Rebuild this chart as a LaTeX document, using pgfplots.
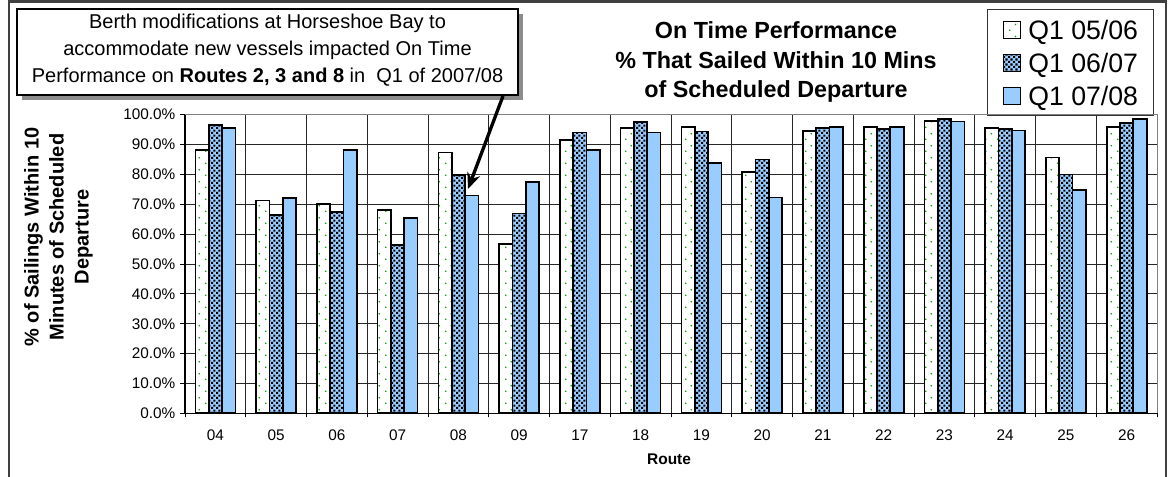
\documentclass[border=0pt]{standalone}
\usepackage{fontspec}
\setmainfont{Liberation Sans}
\usepackage{pgfplots}
\pgfplotsset{compat=1.18}
\usetikzlibrary{patterns,patterns.meta,arrows.meta}
\definecolor{barblue}{HTML}{99CCFF}
\definecolor{dotgreen}{HTML}{00A000}

\tikzdeclarepattern{
  name=sparsedots,
  type=uncolored,
  bottom left={(0pt,0pt)},
  top right={(9pt,9pt)},
  tile size={(9pt,9pt)},
  code={
    \fill (1.4pt,1.4pt) circle (0.7pt);
    \fill (5.9pt,5.9pt) circle (0.7pt);
  }
}
\tikzdeclarepattern{
  name=checkdots,
  type=uncolored,
  bottom left={(0pt,0pt)},
  top right={(3.6pt,3.6pt)},
  tile size={(3.6pt,3.6pt)},
  code={
    \fill (0pt,0pt) rectangle (1.6pt,1.6pt);
    \fill (1.8pt,1.8pt) rectangle (3.4pt,3.4pt);
  }
}

\pgfplotsset{boxlegend/.style={legend image code/.code={\draw[##1, line width=0.6pt] (0pt,-6.6pt) rectangle (13pt,6.0pt);}}}

\pgfplotstableread{
x  a     b     c
0  88.1  96.5  95.5
1  71.3  66.3  72.1
2  70.1  67.4  88.1
3  68.1  56.3  65.4
4  87.3  79.7  72.9
5  56.6  66.9  77.4
6  91.6  94.0  88.1
7  95.5  97.6  94.0
8  95.9  94.4  83.8
9  80.7  85.0  72.3
10 94.6  95.5  95.9
11 95.8  95.3  95.9
12 97.8  98.6  97.7
13 95.6  95.1  94.7
14 85.7  80.0  74.9
15 95.8  97.2  98.5
}\datatable

\begin{document}
\begin{tikzpicture}
\begin{scope}[x=0.75pt,y=-0.75pt]
\path[use as bounding box] (0,0) rectangle (1174,476);
\draw[black!75,line width=2pt] (9,480) -- (9,1.5) -- (1166,1.5) -- (1166,480);

% callout
\fill[black!45] (21.5,13.5) rectangle (523,100);
\draw[fill=white, draw=black, line width=0.9pt] (17,9) rectangle (518,95);
\node[align=center, font=\fontsize{15}{20}\selectfont, inner sep=0pt] at (267.5,50)
  {Berth modifications at Horseshoe Bay to\\accommodate new vessels impacted On Time\\Performance on \textbf{Routes 2, 3 and 8} in\ \ Q1 of 2007/08};

% title
\node[align=center, font=\fontsize{17.5}{22.3}\selectfont\bfseries, inner sep=0pt] at (776,62)
  {On Time Performance\\\% That Sailed Within 10 Mins\\of Scheduled Departure};
\end{scope}

\begin{axis}[
  at={(138.75pt,-309.975pt)}, anchor=south west,
  scale only axis, width=729pt, height=223.95pt,
  xmin=-0.5, xmax=15.5, ymin=0, ymax=100,
  ybar=0pt, bar width=10pt,
  axis x line*=bottom, axis y line*=left,
  axis line style={black, line width=0.8pt},
  xtick={0,...,15},
  xticklabels={04,05,06,07,08,09,17,18,19,20,21,22,23,24,25,26},
  minor xtick={-0.5,0.5,...,15.5},
  ytick={0,10,...,100},
  tick align=outside,
  major tick length=3.75pt, minor tick length=3pt,
  major x tick style={draw=none},
  minor x tick style={black, line width=0.6pt},
  ytick style={black, line width=0.6pt},
  ymajorgrids, xminorgrids,
  major grid style={black!85, line width=0.6pt},
  minor grid style={black!85, line width=0.6pt},
  /pgf/number format/assume math mode=true,
  yticklabel={\pgfmathprintnumber[fixed,fixed zerofill,precision=1]{\tick}\%},
  tick label style={font=\fontsize{11.5}{13}\selectfont},
  xticklabel style={yshift=-5pt},
  ylabel={\% of Sailings Within 10\\Minutes of Scheduled\\Departure},
  every axis y label/.style={at={(axis description cs:-0.1303,0.5904)}, rotate=90, anchor=center, align=center, font=\fontsize{15}{18.75}\selectfont\bfseries},
  xlabel={Route},
  every axis x label/.style={at={(axis description cs:0.498,-0.1731)}, anchor=base, font=\fontsize{11.6}{13}\selectfont\bfseries},
  extra description/.code={\draw[gray, line width=0.75pt] (0,1) -- (1,1) -- (1,0);},
  legend style={at={(axis description cs:0.8251,1.354)}, anchor=north west,
    draw=black!80, line width=0.75pt, fill=white,
    font=\fontsize{20}{24}\selectfont,
    inner xsep=11.5pt, inner ysep=5.5pt, row sep=5.75pt, column sep=5.5pt,
    nodes={inner sep=0pt, text height=17pt, text depth=2pt}},
  legend cell align=left,
]
\addplot[draw=black, line width=1.3pt, fill=white,
  postaction={pattern=sparsedots, pattern color=dotgreen}, boxlegend]
  table[x=x,y=a] {\datatable};
\addplot[draw=black, line width=1.3pt, fill=barblue,
  postaction={pattern=checkdots, pattern color=black}, boxlegend]
  table[x=x,y=b] {\datatable};
\addplot[draw=black, line width=1.3pt, fill=barblue, boxlegend]
  table[x=x,y=c] {\datatable};
\legend{Q1 05/06,Q1 06/07,Q1 07/08}
\end{axis}

\begin{scope}[x=0.75pt,y=-0.75pt]
\draw[line width=2.5pt, -{Stealth[length=12pt,width=10pt]}] (503,96) -- (468,189);
\end{scope}
\end{tikzpicture}
\end{document}
